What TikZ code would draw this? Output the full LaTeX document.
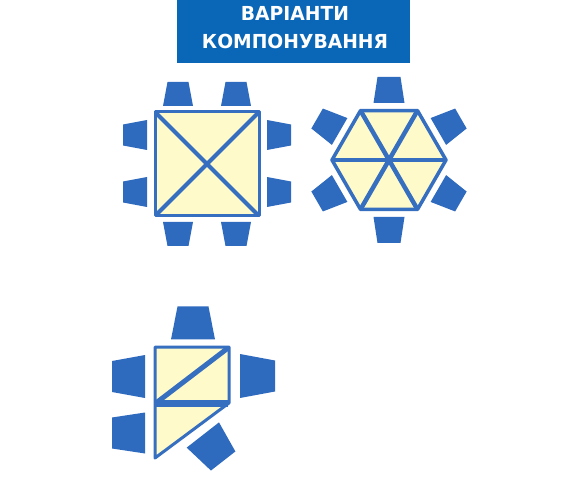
\documentclass[tikz,border=0pt]{standalone}
\usepackage{fontspec}
\newfontfamily\titlefont{DejaVu Sans}[FakeStretch=0.97]
\definecolor{titleblue}{RGB}{10,102,182}
\definecolor{chairblue}{RGB}{46,106,190}
\definecolor{tblue}{RGB}{54,110,192}
\definecolor{tfill}{RGB}{255,250,202}
\tikzset{
  tablebox/.style={fill=tfill, draw=tblue, line width=3pt, line join=round},
  tline/.style={draw=tblue, line width=4pt},
  titletext/.style={text=white, font=\titlefont\bfseries\fontsize{19.3}{28}\selectfont, anchor=base, inner sep=0pt},
}
\newcommand\chairshape[6]{%
  \fill[chairblue, shift={(#1,#2)}, rotate=#3]
    ({-#4/2},{-#6/2}) -- ({#4/2},{-#6/2}) -- ({#5/2},{#6/2}) -- ({-#5/2},{#6/2}) -- cycle;}
\begin{document}
\begin{tikzpicture}[x=1pt,y=-1pt]
\useasboundingbox (0,0) rectangle (573,478);
% title
\fill[titleblue] (177,0) rectangle (410,63);
\node[titletext] (title1) at (295,20.7) {ВАРІАНТИ};
\node[titletext] (title2) at (295,49) {КОМПОНУВАННЯ};
% square table
\chairshape{178}{94}{180}{30}{21}{24}
\chairshape{236}{94}{180}{30}{21}{24}
\chairshape{178}{234}{0}{30}{21}{24}
\chairshape{236}{234}{0}{30}{21}{24}
\chairshape{135}{135}{-90}{30}{21}{24}
\chairshape{135}{192}{-90}{30}{21}{24}
\chairshape{279}{135}{90}{30}{21}{24}
\chairshape{279}{192}{90}{30}{21}{24}
\path[tablebox] (155,112) rectangle (259,216);
\draw[tline] (156,113) -- (258,215);
\draw[tline] (258,113) -- (156,215);
% hexagon table
\foreach \t in {30,90,150,210,270,330}{
  \pgfmathsetmacro\cx{389+70*cos(\t)}
  \pgfmathsetmacro\cy{160-70*sin(\t)}
  \pgfmathsetmacro\ca{\t+90}
  \chairshape{\cx}{\cy}{\ca}{31}{23}{26}
}
\path[tablebox, line width=3.5pt] (332,160) -- (360.5,110.6) -- (417.5,110.6) -- (446,160) -- (417.5,209.4) -- (360.5,209.4) -- cycle;
\draw[tline, line width=4.5pt] (332,160) -- (446,160);
\draw[tline, line width=4.5pt] (360.5,110.6) -- (417.5,209.4);
\draw[tline, line width=4.5pt] (417.5,110.6) -- (360.5,209.4);
% third table
\chairshape{193}{323}{180}{44}{31}{33}
\chairshape{128.5}{376.5}{-90}{43}{31}{33}
\chairshape{128.5}{433}{-90}{41}{31}{33}
\chairshape{257.5}{376}{90}{44}{31}{35}
\chairshape{213}{448}{38}{41}{31}{33}
\path[tablebox] (155,347) -- (229,347) -- (229,403) -- (155,458) -- cycle;
\draw[tline, line width=5pt] (156,403) -- (228,348);
\draw[tline, line width=7pt] (156,403) -- (228,403);
\end{tikzpicture}
\end{document}
